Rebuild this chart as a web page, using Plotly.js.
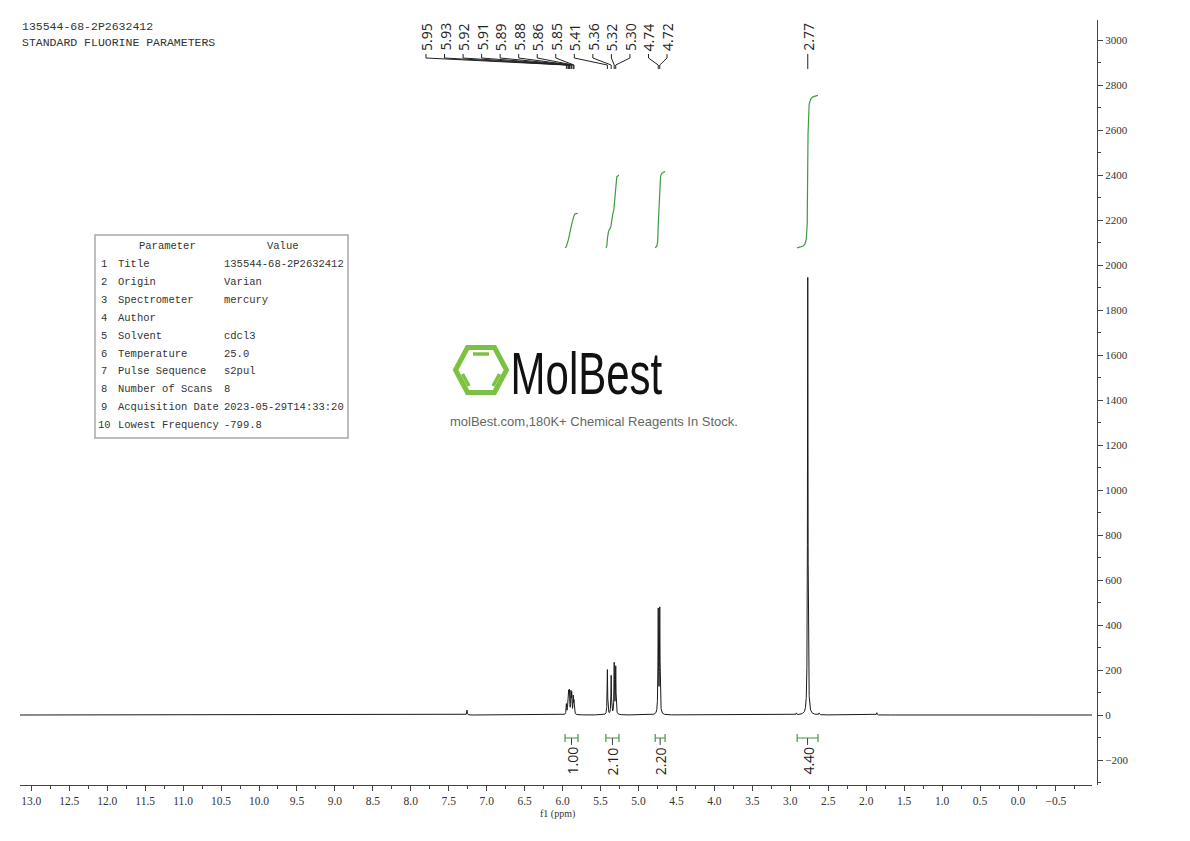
<!DOCTYPE html>
<html><head><meta charset="utf-8">
<script src="https://cdn.plot.ly/plotly-3.0.1.min.js"></script>
<style>html,body{margin:0;padding:0;background:#fff}#chart{width:1190px;height:841px}</style>
</head><body><div id="chart"></div>
<script>
// ---------------- data ----------------
const headerLines = ["135544-68-2P2632412", "STANDARD FLUORINE PARAMETERS"];

// spectrum lines (ppm) and their heights (intensity units)
const specPPM    = [7.26, 5.95, 5.93, 5.92, 5.91, 5.89, 5.88, 5.86, 5.85, 5.41, 5.36, 5.32, 5.30, 4.74, 4.72, 2.92, 2.77, 2.62, 1.86];
const specHeight = [22,   45,   70,   85,   95,   90,   85,   75,   55,   200,  172,  224,  209,  458,  463,  8,    1945, 8,    10];

// labelled peaks
const labelPPM = [5.95, 5.93, 5.92, 5.91, 5.89, 5.88, 5.86, 5.85, 5.41, 5.36, 5.32, 5.30, 4.74, 4.72, 2.77];

// integrals
const intFrom  = [5.968, 5.430, 4.780, 2.910];
const intTo    = [5.797, 5.257, 4.650, 2.635];
const intValue = [1.00, 2.10, 2.20, 4.40];

// parameter table
const tableNo    = ["1", "2", "3", "4", "5", "6", "7", "8", "9", "10"];
const tableParam = ["Title", "Origin", "Spectrometer", "Author", "Solvent", "Temperature", "Pulse Sequence", "Number of Scans", "Acquisition Date", "Lowest Frequency"];
const tableValue = ["135544-68-2P2632412", "Varian", "mercury", "", "cdcl3", "25.0", "s2pul", "8", "2023-05-29T14:33:20", "-799.8"];

const watermarkName = "MolBest";
const watermarkTag = "molBest.com,180K+ Chemical Reagents In Stock.";

// ---------------- layout constants ----------------
const W = 1190, H = 841, L = 20, R = 93, T = 20, B = 56;
const PW = W - L - R, PH = H - T - B;
const pxX = px => (px - L) / PW;
const pxY = py => (H - B - py) / PH;
const xRange = [13.149, -0.975];
const yRange = [-311.1, 3088.9];
const lineHWHM = 0.004;
const gridStep = 0.0005;
const integralBase = 2076;
const integralScale = 154;
const green = '#3f9a45';
const dark = '#222';
const serifFont = "'Liberation Serif', 'DejaVu Serif', serif";
const monoFont = "'Liberation Mono', 'DejaVu Sans Mono', monospace";

// ---------------- spectrum ----------------
const xs = [], ys = [];
for (let x = xRange[0]; x >= xRange[1]; x -= gridStep) {
  let y = 0;
  for (let k = 0; k < specPPM.length; k++) {
    const d = x - specPPM[k];
    y += specHeight[k] * lineHWHM * lineHWHM / (d * d + lineHWHM * lineHWHM);
  }
  xs.push(x); ys.push(y);
}

const traces = [{
  x: xs, y: ys, type: 'scatter', mode: 'lines',
  line: {color: '#1a1a1a', width: 1}, hoverinfo: 'skip', showlegend: false
}];

// integral curves (cumulative sums of the spectrum)
for (let i = 0; i < intFrom.length; i++) {
  const ix = [], cum = [];
  let s = 0;
  for (let j = 0; j < xs.length; j++) {
    if (xs[j] <= intFrom[i] && xs[j] >= intTo[i]) {
      s += ys[j]; ix.push(xs[j]); cum.push(s);
    }
  }
  const iy = cum.map(c => integralBase + intValue[i] * integralScale * c / s);
  traces.push({x: ix, y: iy, type: 'scatter', mode: 'lines',
    line: {color: green, width: 1.2}, hoverinfo: 'skip', showlegend: false});
}

// ---------------- shapes & annotations ----------------
const shapes = [];
const annotations = [];

// header
headerLines.forEach((t, i) => annotations.push({
  text: t, xref: 'paper', yref: 'paper', x: pxX(20), y: pxY(27 + i * 15.5),
  xanchor: 'left', yanchor: 'middle', showarrow: false,
  font: {family: monoFont, size: 11.5, color: '#333'}
}));

// peak labels
const labelGap = 0.2443, clusterLeft = 7.80, clusterCount = 14;
const labelX = labelPPM.map((p, i) => i < clusterCount ? clusterLeft - i * labelGap : p);
labelPPM.forEach((p, i) => {
  annotations.push({
    text: p.toFixed(2), xref: 'x', yref: 'paper', x: labelX[i], y: pxY(37),
    textangle: -90, xanchor: 'center', yanchor: 'middle', showarrow: false,
    font: {family: "'Open Sans', 'Noto Sans', sans-serif", size: 14, color: dark}
  });
  shapes.push({
    type: 'path', xref: 'x', yref: 'paper',
    path: `M ${labelX[i]},${pxY(54)} L ${labelX[i]},${pxY(58)} L ${p},${pxY(65)} L ${p},${pxY(69)}`,
    line: {color: dark, width: 1}
  });
});

// integral brackets and labels
intFrom.forEach((a, i) => {
  const b = intTo[i], mid = (a + b) / 2;
  shapes.push({
    type: 'path', xref: 'x', yref: 'paper',
    path: `M ${a},${pxY(734)} L ${a},${pxY(742)} M ${a},${pxY(738)} L ${b},${pxY(738)} M ${b},${pxY(734)} L ${b},${pxY(742)}`,
    line: {color: green, width: 1.2}
  });
  shapes.push({
    type: 'path', xref: 'x', yref: 'paper',
    path: `M ${mid},${pxY(738)} L ${mid},${pxY(745)}`,
    line: {color: '#444', width: 1}
  });
  annotations.push({
    text: intValue[i].toFixed(2), xref: 'x', yref: 'paper', x: mid, y: pxY(761),
    textangle: -90, xanchor: 'center', yanchor: 'middle', showarrow: false,
    font: {family: "'Open Sans', 'Noto Sans', sans-serif", size: 14, color: dark}
  });
});

// parameter table
shapes.push({type: 'rect', xref: 'paper', yref: 'paper',
  x0: pxX(95), x1: pxX(348), y0: pxY(235), y1: pxY(438),
  line: {color: '#a8a8a8', width: 1.5}, fillcolor: 'rgba(0,0,0,0)'});
const tFont = {family: monoFont, size: 10.5, color: '#333'};
annotations.push({text: 'Parameter', xref: 'paper', yref: 'paper', x: pxX(167), y: pxY(246), xanchor: 'center', yanchor: 'middle', showarrow: false, font: tFont});
annotations.push({text: 'Value', xref: 'paper', yref: 'paper', x: pxX(283), y: pxY(246), xanchor: 'center', yanchor: 'middle', showarrow: false, font: tFont});
tableNo.forEach((n, i) => {
  const yy = pxY(264 + i * 17.9);
  annotations.push({text: n, xref: 'paper', yref: 'paper', x: pxX(n.length > 1 ? 96 : 99), y: yy, xanchor: 'left', yanchor: 'middle', showarrow: false, font: tFont});
  annotations.push({text: tableParam[i], xref: 'paper', yref: 'paper', x: pxX(116), y: yy, xanchor: 'left', yanchor: 'middle', showarrow: false, font: tFont});
  if (tableValue[i]) annotations.push({text: tableValue[i], xref: 'paper', yref: 'paper', x: pxX(222), y: yy, xanchor: 'left', yanchor: 'middle', showarrow: false, font: tFont});
});

// watermark logo
const pathFrom = pts => pts.map((p, i) => (i ? 'L ' : 'M ') + pxX(p[0]) + ',' + pxY(p[1])).join(' ');
const logoGreen = '#7cc242';
shapes.push({type: 'path', xref: 'paper', yref: 'paper',
  path: pathFrom([[455.5, 370], [467.5, 347.5], [494.5, 347.5], [506.5, 370], [494.5, 392.5], [467.5, 392.5]]) + ' Z',
  line: {color: logoGreen, width: 5}});
[[[473, 354], [489, 354]], [[462.5, 374], [469, 386]], [[499.5, 374], [493, 386]]].forEach(seg => shapes.push({
  type: 'path', xref: 'paper', yref: 'paper', path: pathFrom(seg), line: {color: logoGreen, width: 3.5}
}));
annotations.push({text: watermarkName, xref: 'paper', yref: 'paper', x: pxX(586), y: pxY(373),
  xanchor: 'center', yanchor: 'middle', showarrow: false,
  font: {family: "'Liberation Sans', Arial, sans-serif", size: 60, color: '#111'}});
annotations.push({text: watermarkTag, xref: 'paper', yref: 'paper', x: pxX(594), y: pxY(421),
  xanchor: 'center', yanchor: 'middle', showarrow: false,
  font: {family: "'Liberation Sans', Arial, sans-serif", size: 13, color: '#666'}});

// axis title
annotations.push({text: 'f1 (ppm)', xref: 'paper', yref: 'paper', x: pxX(557), y: pxY(814),
  xanchor: 'center', yanchor: 'middle', showarrow: false,
  font: {family: serifFont, size: 10, color: '#333'}});

const layout = {
  width: W, height: H,
  margin: {l: L, r: R, t: T, b: B, pad: 0},
  paper_bgcolor: '#fff', plot_bgcolor: '#fff',
  showlegend: false,
  xaxis: {
    range: xRange, domain: [0, (1092 - L) / PW], anchor: 'free', position: 0,
    showgrid: false, zeroline: false, showline: true, linecolor: '#444', linewidth: 1,
    ticks: 'outside', ticklen: 5, tickcolor: '#444', dtick: 0.5, tick0: 0, tickformat: '.1f',
    minor: {dtick: 0.25, tick0: 0, ticks: 'outside', ticklen: 3, tickcolor: '#444', showgrid: false},
    tickfont: {family: serifFont, size: 11.5, color: '#333'}
  },
  yaxis: {
    range: yRange, side: 'right', anchor: 'free', position: 1,
    showgrid: false, zeroline: false, showline: true, linecolor: '#444', linewidth: 1,
    ticks: 'outside', ticklen: 5, tickcolor: '#444', dtick: 200, tick0: 0,
    minor: {dtick: 100, tick0: 0, ticks: 'outside', ticklen: 3, tickcolor: '#444', showgrid: false},
    tickfont: {family: serifFont, size: 11, color: '#333'}
  },
  shapes: shapes,
  annotations: annotations
};

Plotly.newPlot('chart', traces, layout, {displayModeBar: false, staticPlot: true}).then(() => {
  document.querySelectorAll('#chart .annotation-text').forEach(t => {
    if (t.textContent === watermarkName) {
      const bb = t.getBBox();
      const cx = bb.x + bb.width / 2;
      t.setAttribute('transform', `translate(${cx},0) scale(0.7,1) translate(${-cx},0)`);
    }
  });
});
</script>
</body></html>
